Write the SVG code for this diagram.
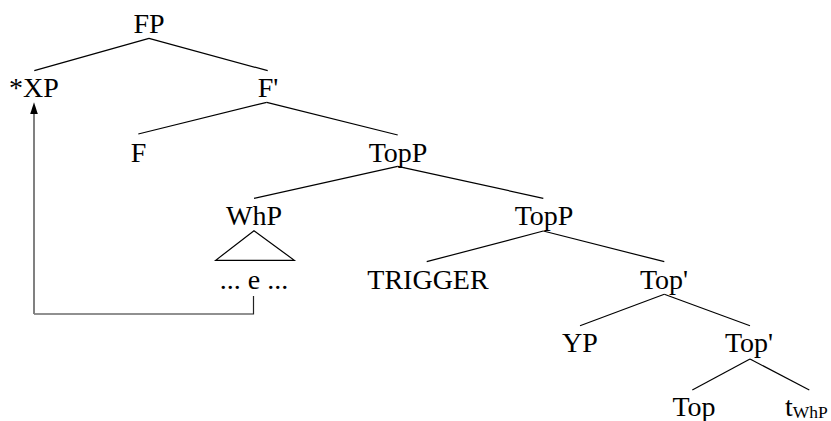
<svg xmlns="http://www.w3.org/2000/svg" width="831" height="421" viewBox="0 0 831 421">
<style>
text{font-family:"Liberation Serif","Times New Roman",serif;font-size:28px;fill:#000;text-anchor:middle}
.start{text-anchor:start}
.sub{font-size:17.5px}
.edge{stroke:#000;stroke-width:1.2;fill:none}
</style>
<rect width="831" height="421" fill="#fff"/>
<g id="connectors">
<line class="edge" x1="149" y1="38.3" x2="34.3" y2="70.7"/>
<line class="edge" x1="149" y1="38.3" x2="267.7" y2="70.7"/>
<line class="edge" x1="266.7" y1="102.3" x2="138.3" y2="134"/>
<line class="edge" x1="266.7" y1="102.3" x2="397.7" y2="135"/>
<line class="edge" x1="397.7" y1="166.3" x2="254" y2="198.3"/>
<line class="edge" x1="397.7" y1="166.3" x2="543.3" y2="198.3"/>
<line class="edge" x1="543.3" y1="231" x2="426.7" y2="261.7"/>
<line class="edge" x1="543.3" y1="231" x2="664.3" y2="261.7"/>
<line class="edge" x1="664.3" y1="294.3" x2="580" y2="325.7"/>
<line class="edge" x1="664.3" y1="294.3" x2="750" y2="325.7"/>
<line class="edge" x1="750" y1="359" x2="692.3" y2="390"/>
<line class="edge" x1="750" y1="359" x2="809.3" y2="390"/>
<polygon class="edge" points="254,230.7 215.7,260.3 294.3,260.3"/>
<polyline fill="none" stroke="#222" stroke-width="1.2" points="253.5,296 253.5,314 34,314"/>
<line x1="34" y1="314" x2="34" y2="112" stroke="#808080" stroke-width="2"/>
<polygon points="34,102.3 30.2,114 37.8,114" fill="#000"/>
</g>
<g id="n-FP"><text x="149" y="33">FP</text></g>
<g id="n-XP"><text class="start" x="9" y="97">*XP</text></g>
<g id="n-Fbar"><text x="268" y="97">F'</text></g>
<g id="n-F"><text x="138.5" y="162">F</text></g>
<g id="n-TopP1"><text x="398" y="162">TopP</text></g>
<g id="n-WhP"><text x="254" y="225">WhP</text></g>
<g id="n-e"><text x="254" y="289">... e ...</text></g>
<g id="n-TopP2"><text x="544" y="225">TopP</text></g>
<g id="n-TRIGGER"><text x="428" y="289">TRIGGER</text></g>
<g id="n-Topbar1"><text x="664" y="289">Top'</text></g>
<g id="n-YP"><text x="580" y="352">YP</text></g>
<g id="n-Topbar2"><text x="749" y="352">Top'</text></g>
<g id="n-Top"><text x="694" y="416">Top</text></g>
<g id="n-t"><text class="start" x="785" y="416">t<tspan class="sub" dy="2">WhP</tspan></text></g>
</svg>
